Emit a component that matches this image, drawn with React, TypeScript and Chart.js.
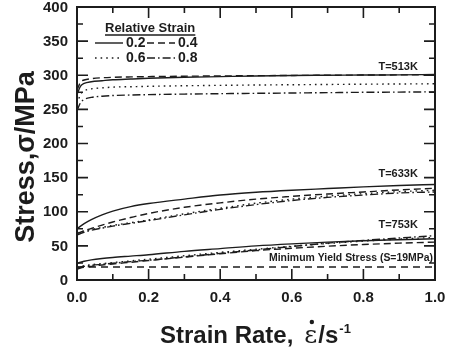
import React, { useEffect, useRef } from "react";
import { Chart, registerables } from "chart.js";

Chart.register(...registerables);

// Strain rate samples (s^-1) shared by every flow-stress curve
const strainRates = [0, 0.01, 0.02, 0.04, 0.07, 0.1, 0.15, 0.2, 0.3, 0.4, 0.5, 0.6, 0.7, 0.8, 0.9, 1.0];

// Flow stress (MPa) at T = 513 K for relative strains 0.2 / 0.4 / 0.6 / 0.8
const t513Strain02 = [272, 284, 288, 290.5, 292, 293.4, 294.5, 295.5, 297, 298, 299, 299.7, 300, 300.3, 300.6, 301];
const t513Strain04 = [278, 290, 293, 295, 296.3, 297, 297.6, 298, 298.6, 299, 299.4, 299.7, 300, 300.3, 300.5, 300.8];
const t513Strain06 = [258, 272, 277, 280, 281.5, 282.6, 283.2, 283.8, 284.6, 285.2, 285.7, 286.1, 286.5, 286.9, 287.2, 287.5];
const t513Strain08 = [248, 260, 264.5, 267.5, 269.3, 270.3, 271, 271.6, 272.4, 273, 273.5, 274, 274.5, 275, 275.3, 275.7];

// Flow stress (MPa) at T = 633 K
const t633Strain02 = [75, 79, 82.5, 88.5, 95.5, 101, 107.5, 112, 118.5, 124.5, 128.5, 131.5, 134, 136.5, 138.5, 140];
const t633Strain04 = [68, 70, 72, 75.5, 80.5, 85, 91.5, 97.5, 106.5, 113, 118.5, 122.5, 126, 129, 132, 134.5];
const t633Strain06 = [69, 70.5, 72, 74, 77, 80, 84, 88, 97, 105, 112.5, 118.5, 123, 126.5, 129.5, 131.5];
const t633Strain08 = [66, 68, 70, 73, 76, 79, 83, 87, 95.5, 103.5, 110.5, 116.5, 121, 124.5, 127.5, 129];

// Flow stress (MPa) at T = 753 K
const t753Strain02 = [24, 26, 27.5, 29.5, 31.5, 33, 35, 37, 42, 46, 50, 53, 55.5, 57.5, 59, 60.5];
const t753Strain04 = [16, 17.5, 18.5, 20, 22, 23.5, 26, 28.5, 33.5, 38.5, 43, 46.5, 49.5, 52, 54, 55.5];
const t753Strain06 = [19, 20, 21, 22.5, 24, 25.5, 28, 30.5, 35.5, 40.5, 45, 49.5, 53.5, 57, 60, 62.5];
const t753Strain08 = [18, 19, 20, 21.5, 23, 24.5, 27, 29, 34, 39, 44, 49, 54, 58, 61.5, 65];

const minYieldStress = 19;

// Axis tick values
const xTickValues = [0, 0.2, 0.4, 0.6, 0.8, 1.0];
const yTickValues = [0, 50, 100, 150, 200, 250, 300, 350, 400];

const strainLevels = ["0.2", "0.4", "0.6", "0.8"];
const temperatureLabels = ["T=513K", "T=633K", "T=753K"];
// Where each temperature label sits, in data units [strain rate, stress]
const temperatureLabelX = [0.897, 0.897, 0.897];
const temperatureLabelY = [312, 156, 80.6];
const minYieldLabel = "Minimum Yield Stress (S=19MPa)";

const xAxisTitle = "Strain Rate,";
const yAxisTitle = "Stress,σ/MPa";
const legendTitle = "Relative Strain";

const INK = "#1c1c1c";
const SANS = '"Liberation Sans", Arial, Helvetica, sans-serif';

const dashFor: Record<string, number[]> = {
  "0.2": [],
  "0.4": [7, 4],
  "0.6": [1.6, 4],
  "0.8": [8, 3, 1.6, 3],
};

const seriesByTemp = [
  [t513Strain02, t513Strain04, t513Strain06, t513Strain08],
  [t633Strain02, t633Strain04, t633Strain06, t633Strain08],
  [t753Strain02, t753Strain04, t753Strain06, t753Strain08],
];

const framePlugin = {
  id: "frameAndNotes",
  afterDraw(chart: any) {
    const { ctx, chartArea } = chart;
    const { left, right, top, bottom } = chartArea;
    const xs = chart.scales.x;
    const ys = chart.scales.y;
    ctx.save();

    // inward ticks on all four sides
    ctx.strokeStyle = INK;
    ctx.lineWidth = 1.6;
    ctx.setLineDash([]);
    ctx.beginPath();
    for (let i = 0; i <= 16; i++) {
      const y = ys.getPixelForValue(i * 25);
      const len = i % 2 === 0 ? 11 : 6;
      ctx.moveTo(left, y);
      ctx.lineTo(left + len, y);
      ctx.moveTo(right, y);
      ctx.lineTo(right - len, y);
    }
    for (let i = 0; i <= 10; i++) {
      const x = xs.getPixelForValue(i / 10);
      const len = i % 2 === 0 ? 11 : 6;
      ctx.moveTo(x, bottom);
      ctx.lineTo(x, bottom - len);
      ctx.moveTo(x, top);
      ctx.lineTo(x, top + len);
    }
    ctx.stroke();

    // plot frame
    ctx.lineWidth = 2;
    ctx.strokeRect(left, top, right - left, bottom - top);

    // tick labels
    ctx.fillStyle = INK;
    ctx.font = `bold 15px ${SANS}`;
    ctx.textBaseline = "middle";
    ctx.textAlign = "right";
    yTickValues.forEach((v) => ctx.fillText(String(v), left - 9, ys.getPixelForValue(v) + 0.5));
    ctx.textAlign = "center";
    xTickValues.forEach((v) => ctx.fillText(v.toFixed(1), xs.getPixelForValue(v), bottom + 18));

    // legend
    ctx.font = `bold 13px ${SANS}`;
    ctx.textAlign = "left";
    const lgX = left + 28;
    const lgY = top + 21;
    ctx.fillText(legendTitle, lgX, lgY);
    const ltw = ctx.measureText(legendTitle).width;
    ctx.lineWidth = 1.4;
    ctx.beginPath();
    ctx.moveTo(lgX, lgY + 7);
    ctx.lineTo(lgX + ltw, lgY + 7);
    ctx.stroke();

    ctx.font = `bold 14px ${SANS}`;
    const rows = [lgY + 15, lgY + 30];
    strainLevels.forEach((lvl, i) => {
      const row = rows[Math.floor(i / 2)];
      const col = i % 2;
      const x0 = left + 18 + col * 52;
      ctx.setLineDash(dashFor[lvl]);
      ctx.lineWidth = 1.4;
      ctx.beginPath();
      ctx.moveTo(x0, row);
      ctx.lineTo(x0 + 28, row);
      ctx.stroke();
      ctx.setLineDash([]);
      ctx.fillText(lvl, x0 + 31, row + 0.5);
    });

    // temperature labels
    ctx.font = `bold 11px ${SANS}`;
    ctx.textAlign = "center";
    temperatureLabels.forEach((t, i) => {
      ctx.fillText(t, xs.getPixelForValue(temperatureLabelX[i]), ys.getPixelForValue(temperatureLabelY[i]));
    });
    ctx.textAlign = "right";
    ctx.fillText(minYieldLabel, right - 2, ys.getPixelForValue(minYieldStress + 13), 164);

    // x-axis title: "Strain Rate,  ε̇/s^-1"
    ctx.textAlign = "left";
    ctx.textBaseline = "alphabetic";
    const base = 343;
    let cx = 160;
    ctx.font = `bold 24px ${SANS}`;
    ctx.fillText(xAxisTitle, cx, base);
    cx += ctx.measureText(xAxisTitle).width + 11;
    ctx.font = `25px "DejaVu Serif", "Liberation Serif", serif`;
    ctx.fillText("ε", cx, base);
    const ew = ctx.measureText("ε").width;
    ctx.beginPath();
    ctx.arc(cx + ew / 2 + 1, base - 21, 2.2, 0, Math.PI * 2);
    ctx.fill();
    cx += ew + 1;
    ctx.font = `bold 24px ${SANS}`;
    ctx.fillText("/s", cx, base);
    cx += ctx.measureText("/s").width + 1;
    ctx.font = `bold 13px ${SANS}`;
    ctx.fillText("-1", cx, base - 10);

    // y-axis title
    ctx.translate(34, 157);
    ctx.rotate(-Math.PI / 2);
    ctx.textAlign = "center";
    ctx.font = `bold 27px ${SANS}`;
    ctx.fillText(yAxisTitle, 0, 0);

    ctx.restore();
  },
};

export default function App() {
  const canvasRef = useRef<HTMLCanvasElement | null>(null);

  useEffect(() => {
    if (!canvasRef.current) return;
    const datasets: any[] = [];
    seriesByTemp.forEach((group, ti) => {
      group.forEach((values, si) => {
        datasets.push({
          label: `${temperatureLabels[ti]} ${strainLevels[si]}`,
          data: strainRates.map((x, k) => ({ x, y: values[k] })),
          borderColor: INK,
          borderWidth: 1.4,
          borderDash: dashFor[strainLevels[si]],
          pointRadius: 0,
          fill: false,
          cubicInterpolationMode: "monotone",
        });
      });
    });
    datasets.push({
      label: minYieldLabel,
      data: [
        { x: 0, y: minYieldStress },
        { x: 1, y: minYieldStress },
      ],
      borderColor: INK,
      borderWidth: 1.4,
      borderDash: [7, 5],
      pointRadius: 0,
      fill: false,
    });

    const chart = new Chart(canvasRef.current, {
      type: "line",
      data: { datasets },
      options: {
        animation: false,
        responsive: true,
        maintainAspectRatio: false,
        layout: { padding: { left: 77, right: 15, top: 7, bottom: 70 } },
        plugins: { legend: { display: false }, tooltip: { enabled: false } },
        scales: {
          x: {
            type: "linear",
            min: 0,
            max: 1,
            ticks: { display: false, stepSize: 0.1 },
            grid: { display: false, drawTicks: false },
            border: { display: false },
          },
          y: {
            min: 0,
            max: 400,
            ticks: { display: false, stepSize: 25 },
            grid: { display: false, drawTicks: false },
            border: { display: false },
          },
        },
      },
      plugins: [framePlugin],
    });
    return () => chart.destroy();
  }, []);

  return (
    <div style={{ position: "absolute", left: 0, top: 0, width: 450, height: 350, background: "#fff" }}>
      <canvas ref={canvasRef} />
    </div>
  );
}
